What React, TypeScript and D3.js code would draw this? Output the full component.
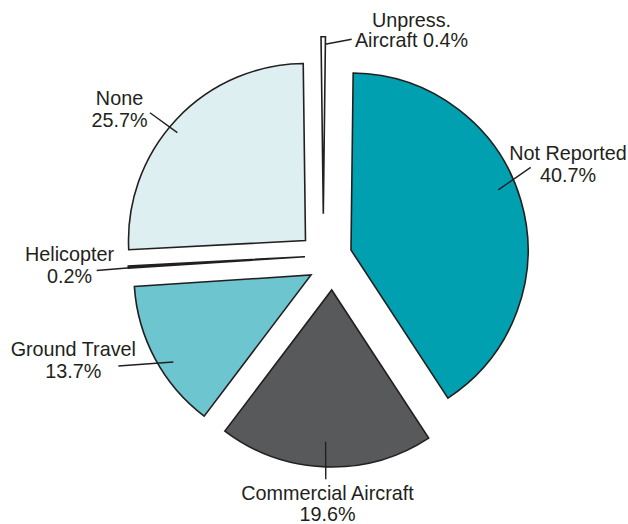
import React from "react";
import * as d3 from "d3";

// ---- data ----
const categories = [
  "Not Reported",
  "Commercial Aircraft",
  "Ground Travel",
  "Helicopter",
  "None",
  "Unpress.\nAircraft",
];
const values = [40.7, 19.6, 13.7, 0.2, 25.7, 0.4];

// ---- styles / layout ----
const colors = ["#00a0b1", "#58595b", "#6cc5cf", "#231f20", "#ddeff0", "#ffffff"];
const W = 628;
const H = 524;
const R = 177;
const CENTER: [number, number] = [326, 262];
const ROTATION = 0.7; // degrees
// per-slice explode translation
const explode: [number, number][] = [
  [25, -12],
  [5.7, 28],
  [-15, 13],
  [-21, -5.3],
  [-20.5, -21.5],
  [-2.7, -48.3],
];
// leader lines: [angle1, radius1, angle2, radius2] relative to each slice apex
const leaders: [number, number, number, number][] = [
  [67.8, 159, 65.3, 197.8],
  [182.3, 151.8, 181.8, 189.4],
  [237.7, 162.9, 244.7, 213.1],
  [266.4, 175.3, 266.2, 208.8],
  [310.1, 167.5, 309.4, 201.3],
  [0.6, 169.4, 9.25, 176.7],
];
// label anchor: center x, baseline of first line, line gap
const labelPos: [number, number, number][] = [
  [568, 159.5, 22.5],
  [327.5, 500, 20.5],
  [73.3, 356, 22.3],
  [69.5, 260.7, 22],
  [119.5, 105, 21.7],
  [411.5, 26.7, 20],
];

const INK = "#231f20";

function polar(apex: [number, number], deg: number, r: number): [number, number] {
  const a = (deg * Math.PI) / 180;
  return [apex[0] + r * Math.sin(a), apex[1] - r * Math.cos(a)];
}

export default function App() {
  const rot = (ROTATION * Math.PI) / 180;
  const pie = d3
    .pie<number>()
    .sort(null)
    .value((d) => d)
    .startAngle(rot)
    .endAngle(rot + 2 * Math.PI);
  const arcs = pie(values);
  const arc = d3.arc<d3.PieArcDatum<number>>().innerRadius(0).outerRadius(R);

  return (
    <div style={{ position: "fixed", left: 0, top: 0 }}>
      <svg width={W} height={H} style={{ display: "block", background: "#fff" }}>
        {arcs.map((a, i) => {
          const apex: [number, number] = [CENTER[0] + explode[i][0], CENTER[1] + explode[i][1]];
          return (
            <path
              key={"s" + i}
              d={arc(a) || ""}
              transform={`translate(${apex[0]},${apex[1]})`}
              fill={colors[i]}
              stroke={INK}
              strokeWidth={1.6}
              strokeLinejoin="miter"
            />
          );
        })}
        {arcs.map((a, i) => {
          const apex: [number, number] = [CENTER[0] + explode[i][0], CENTER[1] + explode[i][1]];
          const [a1, r1, a2, r2] = leaders[i];
          const p1 = polar(apex, a1, r1);
          const p2 = polar(apex, a2, r2);
          return (
            <line
              key={"l" + i}
              x1={p1[0]}
              y1={p1[1]}
              x2={p2[0]}
              y2={p2[1]}
              stroke={INK}
              strokeWidth={1.4}
            />
          );
        })}
        {categories.map((name, i) => {
          const pct = `${values[i]}%`;
          const text = name.includes("\n") ? `${name} ${pct}` : `${name}\n${pct}`;
          const lines = text.split("\n");
          const [x, y, gap] = labelPos[i];
          return (
            <text
              key={"t" + i}
              x={x}
              y={y}
              textAnchor="middle"
              fontFamily="'Liberation Sans', Arial, Helvetica, sans-serif"
              fontSize={19.8}
              fill={INK}
            >
              {lines.map((ln, j) => (
                <tspan key={j} x={x} y={y + j * gap}>
                  {ln}
                </tspan>
              ))}
            </text>
          );
        })}
      </svg>
    </div>
  );
}
